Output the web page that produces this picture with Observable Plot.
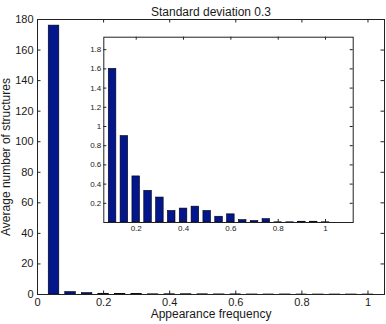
<!DOCTYPE html>
<html>
<head>
<meta charset="utf-8">
<script src="https://cdn.jsdelivr.net/npm/d3@7"></script>
<script src="https://cdn.jsdelivr.net/npm/@observablehq/plot@0.6"></script>
<style>
  html, body { margin: 0; padding: 0; background: white; }
  #wrap { position: relative; width: 386px; height: 324px; }
  #inset { position: absolute; left: 80px; top: 30px; }
  svg { overflow: visible; }
</style>
</head>
<body>
<div id="wrap"><div id="main"></div><div id="inset"></div></div>
<script>
// Bin centres (appearance frequency) and average number of structures
const freq = [0.05, 0.10, 0.15, 0.20, 0.25, 0.30, 0.35, 0.40, 0.45, 0.50,
              0.55, 0.60, 0.65, 0.70, 0.75, 0.80, 0.85, 0.90, 0.95, 1.00];
const avgCount = [176, 1.60, 0.90, 0.48, 0.33, 0.26, 0.12, 0.145, 0.165, 0.12,
                  0.06, 0.085, 0.025, 0.015, 0.035, 0.002, 0.002, 0.008, 0.008, 0.002];

const mainXTicks = [0, 0.2, 0.4, 0.6, 0.8, 1];
const mainYTicks = [0, 20, 40, 60, 80, 100, 120, 140, 160, 180];
const insetXTicks = [0.2, 0.4, 0.6, 0.8, 1];
const insetYTicks = [0.2, 0.4, 0.6, 0.8, 1, 1.2, 1.4, 1.6, 1.8];

const title = "Standard deviation 0.3";
const xLabel = "Appearance frequency";
const yLabel = "Average number of structures";

const data = freq.map((x, i) => ({x, y: avgCount[i]}));
const insetData = data.filter(d => d.x >= 0.1);

const BAR = "#04168c";
const BW = 0.032;
const FONT = "'Liberation Sans', Arial, Helvetica, sans-serif";
const fmt = d3.format("~g");
const TL = 3.5;

// ---------- main axes ----------
const M = {w: 386, h: 324, l: 37, r: 2, t: 19, b: 30};
const mH = M.h - M.t - M.b, mW = M.w - M.l - M.r;
const main = Plot.plot({
  width: M.w, height: M.h,
  marginLeft: M.l, marginRight: M.r, marginTop: M.t, marginBottom: M.b,
  x: {domain: [0, 1.05]},
  y: {domain: [0, 180]},
  style: {fontFamily: FONT, fontSize: "11px", color: "#1a1a1a", background: "transparent"},
  marks: [
    Plot.rectY(data, {x1: d => d.x - BW / 2, x2: d => d.x + BW / 2, y1: 0, y2: "y",
                      fill: BAR, stroke: "#000", strokeWidth: 0.6}),
    Plot.tickX(mainXTicks, {x: d => d, insetTop: mH - TL, stroke: "#222"}),
    Plot.tickX(mainXTicks, {x: d => d, insetBottom: mH - TL, stroke: "#222"}),
    Plot.tickY(mainYTicks, {y: d => d, insetRight: mW - TL, stroke: "#222"}),
    Plot.tickY(mainYTicks, {y: d => d, insetLeft: mW - TL, stroke: "#222"}),
    Plot.frame({stroke: "#222"}),
    Plot.axisX({ticks: mainXTicks, tickSize: 0, tickPadding: 3.5, tickFormat: fmt, label: null}),
    Plot.axisY({ticks: mainYTicks, tickSize: 0, tickPadding: 4, tickFormat: fmt, label: null}),
    Plot.text([xLabel], {frameAnchor: "bottom", dy: 23, fontSize: 12, fill: "#1a1a1a"}),
    Plot.text([title], {frameAnchor: "top", dy: -12, fontSize: 12, fill: "#1a1a1a"}),
    Plot.text([yLabel], {frameAnchor: "left", textAnchor: "middle", dx: -31, rotate: -90,
                         fontSize: 12, fill: "#1a1a1a"})
  ]
});
document.getElementById("main").appendChild(main);

// ---------- inset axes ----------
const I = {w: 280, h: 210, l: 23.3, r: 7.3, t: 6.7, b: 18};
const iH = I.h - I.t - I.b, iW = I.w - I.l - I.r;
const inset = Plot.plot({
  width: I.w, height: I.h,
  marginLeft: I.l, marginRight: I.r, marginTop: I.t, marginBottom: I.b,
  x: {domain: [0.063, 1.117]},
  y: {domain: [0, 1.93]},
  style: {fontFamily: FONT, fontSize: "8px", color: "#1a1a1a", background: "transparent"},
  marks: [
    Plot.frame({fill: "white", stroke: "none"}),
    Plot.rectY(insetData, {x1: d => d.x - BW / 2, x2: d => d.x + BW / 2, y1: 0, y2: "y",
                           fill: BAR, stroke: "#000", strokeWidth: 0.6}),
    Plot.tickX(insetXTicks, {x: d => d, insetTop: iH - 3, stroke: "#222"}),
    Plot.tickX(insetXTicks, {x: d => d, insetBottom: iH - 3, stroke: "#222"}),
    Plot.tickY(insetYTicks, {y: d => d, insetRight: iW - 3, stroke: "#222"}),
    Plot.tickY(insetYTicks, {y: d => d, insetLeft: iW - 3, stroke: "#222"}),
    Plot.frame({stroke: "#222"}),
    Plot.axisX({ticks: insetXTicks, tickSize: 0, tickPadding: 3, tickFormat: fmt, label: null}),
    Plot.axisY({ticks: insetYTicks, tickSize: 0, tickPadding: 2.5, tickFormat: fmt, label: null})
  ]
});
document.getElementById("inset").appendChild(inset);
</script>
</body>
</html>
